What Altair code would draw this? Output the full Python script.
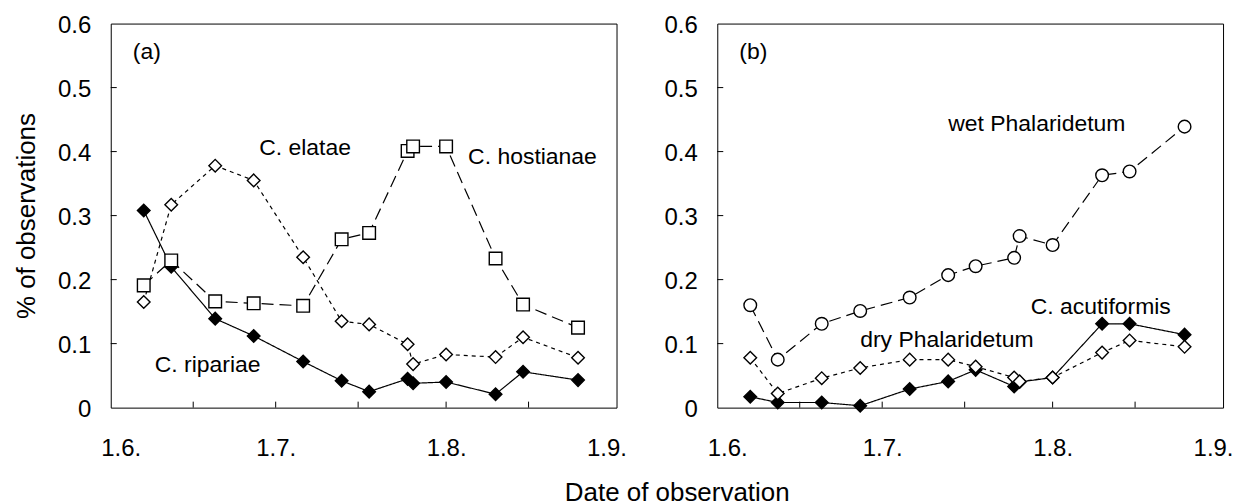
import altair as alt
import pandas as pd

FONT = "Liberation Sans"

# ---- data ----
season_start = "2000-06-01"
season_end = "2000-09-01"
dates = ["2000-06-07", "2000-06-12", "2000-06-20", "2000-06-27", "2000-07-06",
         "2000-07-13", "2000-07-18", "2000-07-25", "2000-07-26", "2000-08-01",
         "2000-08-10", "2000-08-15", "2000-08-25"]

# panel (a)
c_ripariae = [0.308, 0.220, 0.139, 0.112, 0.072, 0.042, 0.025, 0.045, 0.038, 0.040, 0.021, 0.056, 0.043]
c_elatae = [0.165, 0.317, 0.378, 0.355, 0.235, 0.135, 0.130, 0.099, 0.068, 0.083, 0.079, 0.110, 0.078]
c_hostianae = [0.191, 0.230, 0.166, 0.163, 0.159, 0.263, 0.273, 0.401, 0.408, 0.408, 0.233, 0.161, 0.125]

# panel (b)
c_acutiformis = [0.017, 0.008, 0.008, 0.003, 0.029, 0.041, 0.059, 0.033, 0.040, 0.047, 0.131, 0.131, 0.114]
dry_phalaridetum = [0.078, 0.022, 0.046, 0.062, 0.075, 0.075, 0.064, 0.047, 0.041, 0.047, 0.086, 0.105, 0.095]
wet_phalaridetum = [0.160, 0.075, 0.131, 0.151, 0.172, 0.207, 0.221, 0.234, 0.268, 0.254, 0.363, 0.369, 0.439]

# axes
x_label_dates = ["2000-06-01", "2000-07-01", "2000-08-01", "2000-09-01"]
x_labels = ["1.6.", "1.7.", "1.8.", "1.9."]
x_minor_dates = ["2000-06-16", "2000-07-01", "2000-07-16", "2000-08-01", "2000-08-16"]
y_values = [0, 0.1, 0.2, 0.3, 0.4, 0.5, 0.6]
y_inner_ticks = [0.1, 0.2, 0.3, 0.4, 0.5]

# annotations (text, date, value)
ann_a = [("(a)", "2000-06-05", 0.544), ("C. elatae", "2000-06-28", 0.395),
         ("C. hostianae", "2000-08-05", 0.380), ("C. ripariae", "2000-06-09", 0.055)]
ann_b = [("(b)", "2000-06-05", 0.544), ("wet Phalaridetum", "2000-07-13", 0.432),
         ("C. acutiformis", "2000-07-28", 0.147), ("dry Phalaridetum", "2000-06-27", 0.095)]

start = pd.Timestamp(season_start)


def to_day(d):
    return (pd.Timestamp(d) - start).days


x_domain = [0, to_day(season_end)]
label_days = [to_day(d) for d in x_label_dates]
label_expr = "''"
for dday, lab in reversed(list(zip(label_days, x_labels))):
    label_expr = f"datum.value == {dday} ? '{lab}' : ({label_expr})"

xscale = alt.Scale(domain=x_domain, nice=False, zero=False)
yscale = alt.Scale(domain=[0, 0.6], nice=False)

dash_dom = ["solid", "dotted", "dashed"]
dash_rng = [[1, 0], [4, 4], [12, 6]]
mk_dom = ["fdiamond", "odiamond", "square", "circle"]
mk_shape = ["diamond", "diamond", "square", "circle"]
mk_fill = ["black", "white", "white", "white"]
mk_size = [160, 160, 185, 140]

W, H = 507, 385


def series_frame(name, values, line, marker):
    return pd.DataFrame({"series": name, "day": [to_day(d) for d in dates],
                         "value": values, "line": line, "marker": marker})


def panel(series, annotations, y_title):
    df = pd.concat([series_frame(*s) for s in series], ignore_index=True)
    xax = alt.Axis(values=label_days, labelExpr=label_expr, title=None, domain=False,
                   ticks=False, grid=False, labelFontSize=24, labelPadding=29,
                   labelFlush=True, labelFlushOffset=10)
    yax = alt.Axis(values=y_values, format=".1~f", domain=False, ticks=False, grid=False,
                   labelFontSize=24, labelPadding=20, labelOffset=2,
                   titleFontSize=26, titleFontWeight="normal", titlePadding=18)
    if y_title:
        yax["title"] = y_title
    else:
        yax["title"] = None

    lines = alt.Chart(df).mark_line(color="black", strokeWidth=1.2).encode(
        x=alt.X("day:Q", scale=xscale, axis=xax),
        y=alt.Y("value:Q", scale=yscale, axis=yax),
        detail="series:N",
        strokeDash=alt.StrokeDash("line:N", scale=alt.Scale(domain=dash_dom, range=dash_rng), legend=None),
    )
    points = alt.Chart(df).mark_point(filled=True, stroke="black", strokeWidth=1.4, opacity=1).encode(
        x=alt.X("day:Q", scale=xscale),
        y=alt.Y("value:Q", scale=yscale),
        shape=alt.Shape("marker:N", scale=alt.Scale(domain=mk_dom, range=mk_shape), legend=None),
        fill=alt.Fill("marker:N", scale=alt.Scale(domain=mk_dom, range=mk_fill), legend=None),
        size=alt.Size("marker:N", scale=alt.Scale(domain=mk_dom, range=mk_size), legend=None),
    )
    xt = alt.Chart(pd.DataFrame({"day": [to_day(d) for d in x_minor_dates]})).mark_rule(
        color="black", strokeWidth=1).encode(
        x=alt.X("day:Q", scale=xscale), y=alt.value(H), y2=alt.value(H - 6))
    yt = alt.Chart(pd.DataFrame({"value": y_inner_ticks})).mark_rule(
        color="black", strokeWidth=1).encode(
        y=alt.Y("value:Q", scale=yscale), x=alt.value(0), x2=alt.value(6))
    adf = pd.DataFrame({"text": [a[0] for a in annotations],
                        "day": [to_day(a[1]) for a in annotations],
                        "value": [a[2] for a in annotations]})
    texts = alt.Chart(adf).mark_text(align="left", baseline="alphabetic", fontSize=23,
                                     font=FONT, color="black").encode(
        x=alt.X("day:Q", scale=xscale), y=alt.Y("value:Q", scale=yscale), text="text:N")
    return alt.layer(xt, yt, lines, points, texts).properties(width=W, height=H)


panel_a = panel([("C. ripariae", c_ripariae, "solid", "fdiamond"),
                 ("C. elatae", c_elatae, "dotted", "odiamond"),
                 ("C. hostianae", c_hostianae, "dashed", "square")], ann_a, "% of observations")
panel_b = panel([("C. acutiformis", c_acutiformis, "solid", "fdiamond"),
                 ("dry Phalaridetum", dry_phalaridetum, "dotted", "odiamond"),
                 ("wet Phalaridetum", wet_phalaridetum, "dashed", "circle")], ann_b, None)

chart = alt.hconcat(panel_a, panel_b, spacing=36).properties(
    title=alt.TitleParams("Date of observation", orient="bottom", anchor="middle",
                          fontSize=26, font=FONT, fontWeight="normal", color="black",
                          offset=19, dx=54),
    padding={"left": 5, "top": 4, "right": 5, "bottom": 0},
).configure_view(stroke="black", strokeWidth=1).configure_axis(
    labelFont=FONT, titleFont=FONT, labelColor="black", titleColor="black")

chart.save("out.html", embed_options={"renderer": "svg", "actions": False})
